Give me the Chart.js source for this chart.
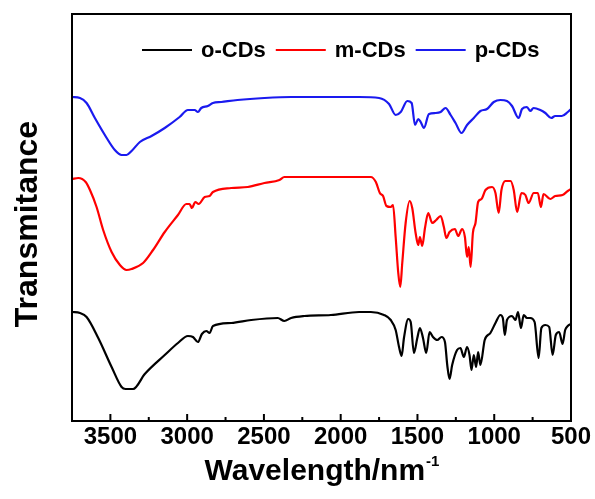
<!DOCTYPE html>
<html>
<head>
<meta charset="utf-8">
<script src="https://cdn.jsdelivr.net/npm/chart.js@4.4.0/dist/chart.umd.min.js"></script>
<style>
  html, body { margin: 0; padding: 0; background: #fff; }
  #grafico { display: block; }
</style>
</head>
<body>
<canvas id="grafico" width="595" height="499"></canvas>
<script>
// Espectros FTIR (transmitância em unidades arbitrárias)
const fonte = '"Liberation Sans", Arial, sans-serif';

const ticksX = [500, 750, 1000, 1250, 1500, 1750, 2000, 2250, 2500, 2750, 3000, 3250, 3500];

// o-CDs (preto)
const oNumeroOnda = [3750,3698,3655,3579,3492,3427,3401,3352,3276,3146,3060,2995,2962,2930,2904,2875,2854,2832,2713,2583,2410,2367,2323,2237,2064,1880,1804,1718,1674,1642,1620,1603,1588,1560,1544,1523,1501,1484,1464,1443,1421,1399,1371,1343,1321,1306,1291,1274,1242,1220,1198,1177,1161,1148,1133,1118,1105,1090,1062,1025,992,960,944,931,917,884,862,845,826,808,787,765,737,711,693,667,642,620,599,577,555,538,521,500];
const oTransm = [109,108,104,83,54,34,32,32,47,66,78,85,84,79,87,90,88,95,98,101,103,100,103,105,106,109,109,106,101,91,74,65,83,102,99,68,83,93,83,68,89,84,81,84,79,56,42,56,71,73,64,74,66,51,66,54,69,56,81,88,98,106,103,86,101,105,101,109,93,106,103,103,99,63,93,96,94,66,86,89,77,91,95,97];

// m-CDs (vermelho)
const mNumeroOnda = [3750,3709,3661,3633,3590,3547,3492,3438,3395,3362,3287,3222,3146,3060,3005,2984,2969,2947,2925,2886,2854,2832,2713,2605,2497,2399,2367,2281,2064,1880,1804,1771,1745,1724,1702,1674,1659,1642,1625,1612,1599,1577,1551,1534,1512,1495,1484,1469,1451,1430,1404,1378,1349,1328,1312,1291,1256,1235,1209,1191,1177,1166,1154,1139,1122,1105,1083,1057,1014,992,971,953,927,894,873,851,823,797,776,743,716,696,679,635,603,555,521,500];
const mTransm = [242,243,239,231,214,191,169,156,151,152,158,171,189,206,217,217,213,219,217,224,225,229,233,234,238,241,244,244,244,244,244,239,228,225,215,214,216,184,148,134,158,198,220,213,188,176,184,175,193,208,198,201,205,194,183,189,192,185,192,184,164,174,154,188,198,219,222,231,234,228,208,231,240,240,231,209,228,226,218,228,228,214,227,222,225,226,230,232];

// p-CDs (azul)
const pNumeroOnda = [3750,3698,3655,3601,3536,3471,3427,3395,3362,3308,3232,3146,3049,2995,2951,2930,2908,2865,2832,2778,2672,2497,2323,2107,1880,1750,1685,1642,1609,1566,1538,1516,1495,1479,1458,1425,1382,1349,1317,1284,1252,1213,1177,1133,1090,1047,1003,960,917,884,841,819,787,765,744,700,667,629,603,560,521,500];
const pTransm = [324,323,318,303,286,271,266,266,270,279,285,293,304,311,311,309,313,315,318,319,321,323,324,324,324,323,317,306,309,320,318,296,302,299,293,307,308,309,313,306,298,288,296,303,310,312,319,321,320,315,303,312,314,310,313,311,308,303,305,305,309,312];

function montarPontos(xs, ys) {
  return xs.map((v, i) => ({ x: v, y: ys[i] }));
}

function serie(label, xs, ys, cor) {
  return {
    label,
    data: montarPontos(xs, ys),
    borderColor: cor,
    backgroundColor: cor,
    borderWidth: 2.2,
    pointRadius: 0,
    cubicInterpolationMode: 'monotone',
    fill: false
  };
}

// Moldura, ticks internos, legenda e títulos dos eixos
const molduraPlugin = {
  id: 'moldura',
  afterDraw(chart) {
    const { ctx, chartArea: a, scales: { x } } = chart;
    ctx.save();
    ctx.strokeStyle = '#000';
    ctx.lineWidth = 2;
    ctx.strokeRect(a.left, a.top, a.right - a.left, a.bottom - a.top);

    x.ticks.forEach(t => {
      const px = x.getPixelForValue(t.value);
      const len = t.value % 500 === 0 ? 7 : 4;
      ctx.beginPath();
      ctx.moveTo(px, a.bottom);
      ctx.lineTo(px, a.bottom - len);
      ctx.stroke();
    });

    // legenda
    let lx = a.left + 70;
    const ly = 50;
    ctx.font = 'bold 22px ' + fonte;
    ctx.textBaseline = 'middle';
    ctx.textAlign = 'left';
    chart.data.datasets.forEach(ds => {
      ctx.strokeStyle = ds.borderColor;
      ctx.lineWidth = 2;
      ctx.beginPath();
      ctx.moveTo(lx, ly);
      ctx.lineTo(lx + 50, ly);
      ctx.stroke();
      lx += 59;
      ctx.fillStyle = '#000';
      ctx.fillText(ds.label, lx, ly + 1);
      lx += ctx.measureText(ds.label).width + 10;
    });

    // título do eixo Y
    ctx.save();
    ctx.translate(28, 224);
    ctx.rotate(-Math.PI / 2);
    ctx.font = 'bold 32px ' + fonte;
    ctx.textAlign = 'center';
    ctx.textBaseline = 'middle';
    ctx.fillStyle = '#000';
    ctx.fillText('Transmitance', 0, 0);
    ctx.restore();

    // título do eixo X com sobrescrito
    const principal = 'Wavelength/nm';
    const sobrescrito = '-1';
    ctx.font = 'bold 30px ' + fonte;
    const w1 = ctx.measureText(principal).width;
    ctx.font = 'bold 15px ' + fonte;
    const w2 = ctx.measureText(sobrescrito).width;
    const inicio = (a.left + a.right) / 2 - (w1 + w2) / 2;
    ctx.fillStyle = '#000';
    ctx.textAlign = 'left';
    ctx.textBaseline = 'alphabetic';
    ctx.font = 'bold 30px ' + fonte;
    ctx.fillText(principal, inicio, 480);
    ctx.font = 'bold 15px ' + fonte;
    ctx.fillText(sobrescrito, inicio + w1 + 1, 466);
    ctx.restore();
  }
};

const grafico = new Chart(document.getElementById('grafico'), {
  type: 'line',
  data: {
    datasets: [
      serie('o-CDs', oNumeroOnda, oTransm, '#000000'),
      serie('m-CDs', mNumeroOnda, mTransm, '#ff0000'),
      serie('p-CDs', pNumeroOnda, pTransm, '#1a1aef')
    ]
  },
  options: {
    responsive: false,
    animation: false,
    devicePixelRatio: 1,
    layout: { padding: { left: 0, right: 24, top: 14, bottom: 0 } },
    plugins: { legend: { display: false }, tooltip: { enabled: false } },
    scales: {
      x: {
        type: 'linear',
        reverse: true,
        min: 500,
        max: 3750,
        afterBuildTicks: s => { s.ticks = ticksX.map(v => ({ value: v })); },
        afterFit: s => { s.height = 78; },
        grid: { display: false, drawTicks: false },
        border: { display: false },
        ticks: {
          autoSkip: false,
          maxRotation: 0,
          padding: 2,
          color: '#000',
          font: { family: fonte, size: 24, weight: 'bold' },
          callback: v => (v % 500 === 0 ? String(v) : '')
        }
      },
      y: {
        min: 0,
        max: 407,
        afterFit: s => { s.width = 72; },
        grid: { display: false, drawTicks: false },
        border: { display: false },
        ticks: { display: false }
      }
    }
  },
  plugins: [molduraPlugin]
});
</script>
</body>
</html>
